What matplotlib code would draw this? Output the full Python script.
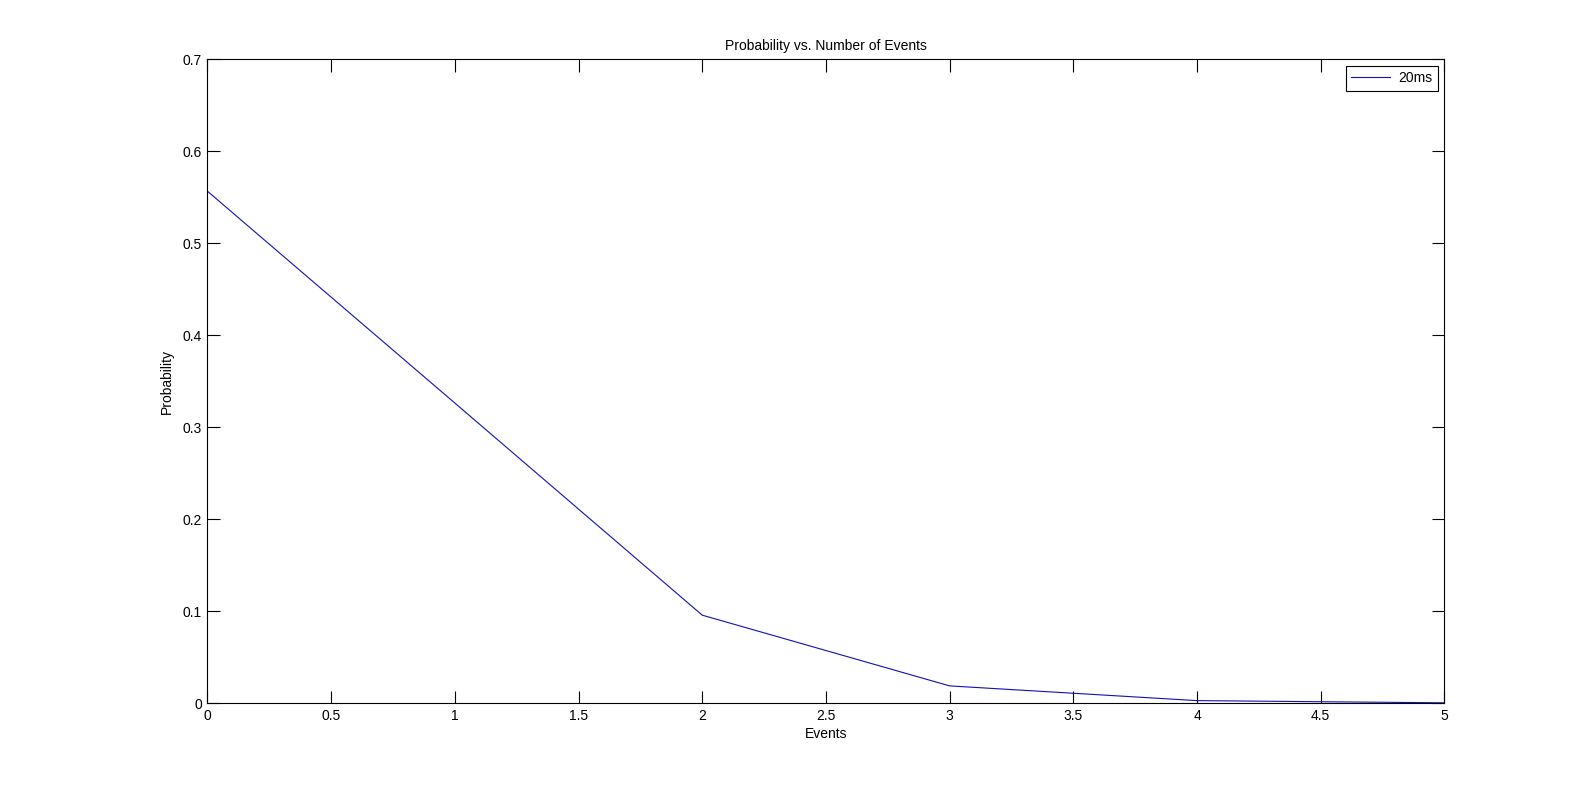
import matplotlib
matplotlib.use("Agg")
import matplotlib.pyplot as plt
from matplotlib.ticker import FormatStrFormatter

# data
events = [0, 1, 2, 3, 4, 5]
prob = [0.5565, 0.3262, 0.0956, 0.0187, 0.0027, 0.0003]
series_name = '20ms'

plt.rcParams['font.family'] = ['Liberation Sans', 'DejaVu Sans']
plt.rcParams['font.size'] = 10

fig = plt.figure(figsize=(15.96, 7.9), dpi=100)
ax = fig.add_axes([0.13, 0.11, 0.775, 0.815])

ax.plot(events, prob, color='#1010b8', lw=0.8, label=series_name)

ax.set_xlim(0, 5)
ax.set_ylim(0, 0.7)
ax.set_xticks([0, 0.5, 1, 1.5, 2, 2.5, 3, 3.5, 4, 4.5, 5])
ax.set_yticks([0, 0.1, 0.2, 0.3, 0.4, 0.5, 0.6, 0.7])
ax.xaxis.set_major_formatter(FormatStrFormatter('%g'))
ax.yaxis.set_major_formatter(FormatStrFormatter('%g'))
ax.tick_params(direction='in', length=9, width=0.8, top=True, right=True, labelsize=10, pad=4)
for s in ax.spines.values():
    s.set_linewidth(0.8)

ax.set_title('Probability vs. Number of Events', fontsize=10, pad=7)
ax.set_xlabel('Events', labelpad=3)
ax.set_ylabel('Probability', labelpad=6)

leg = ax.legend(loc='upper right', fancybox=False, edgecolor='black', framealpha=1,
                handlelength=2.8, handletextpad=0.6, borderaxespad=0.45, fontsize=10)
leg.get_frame().set_linewidth(0.8)

fig.savefig('out.png', dpi=100)
